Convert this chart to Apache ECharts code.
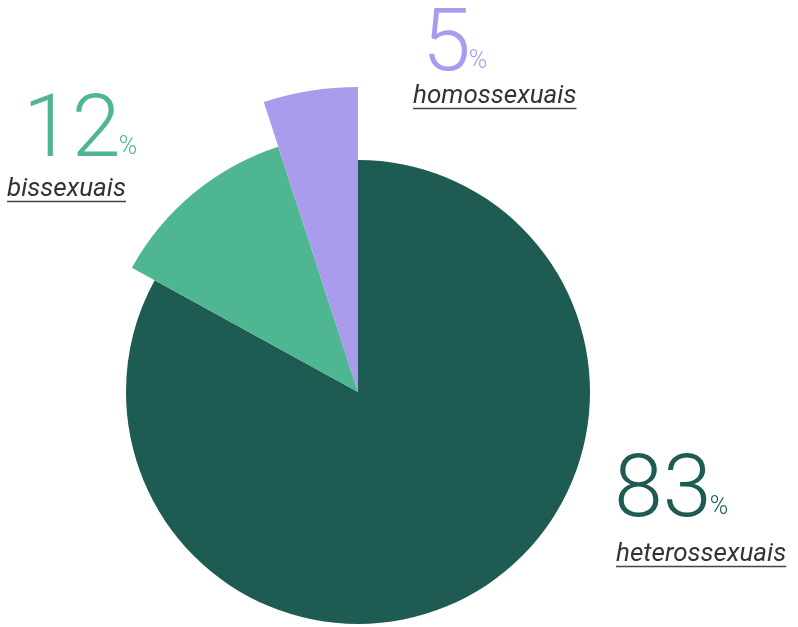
<!DOCTYPE html>
<html>
<head>
<meta charset="utf-8">
<script src="https://cdn.jsdelivr.net/npm/echarts@6/dist/echarts.min.js"></script>
<style>
  html, body { margin: 0; padding: 0; background: #fff; }
  #chart { width: 798px; height: 627px; }
</style>
</head>
<body>
<div id="chart"></div>
<script>
// dados
var names = ['heterossexuais', 'bissexuais', 'homossexuais'];
var values = [83, 12, 5];
var colors = ['#1e5c53', '#4eb690', '#ab9bed'];

// raio de cada fatia
var radii = [232, 258, 305];
// legendas: [x do número, topo do número, x do nome, linha de base do nome]
var labelPos = [[614, 450, 616, 562], [23, 90, 7, 197], [422, 4, 413, 104]];

var chart = echarts.init(document.getElementById('chart'));

var ctx = document.createElement('canvas').getContext('2d');
function textWidth(txt, font) {
  ctx.font = font;
  return ctx.measureText(txt).width;
}

var FONT = 'Roboto, sans-serif';
var NUM_FONT = '300 88px ' + FONT;
var PCT_FONT = '300 25px ' + FONT;
var NAME_FONT = 'italic 400 26px ' + FONT;
var series = [];
var graphic = [];

for (var i = 0; i < names.length; i++) {
  var data = [];
  for (var j = 0; j < values.length; j++) {
    data.push({
      name: names[j],
      value: values[j],
      itemStyle: { color: j == i ? colors[j] : 'transparent' }
    });
  }
  series.push({
    type: 'pie',
    center: [358, 392],
    radius: [0, radii[i]],
    startAngle: 90,
    clockwise: true,
    silent: true,
    animation: false,
    label: { show: false },
    labelLine: { show: false },
    data: data
  });

  var p = labelPos[i];
  var numTxt = String(values[i]);
  var numW = textWidth(numTxt, NUM_FONT);
  var nameW = textWidth(names[i], NAME_FONT);

  graphic.push({
    type: 'text', left: p[0], top: p[1],
    style: { text: numTxt, fill: colors[i], font: NUM_FONT }
  });
  graphic.push({
    type: 'text', left: p[0] + numW - 2, top: p[1] + 45,
    style: { text: '%', fill: colors[i], font: PCT_FONT }
  });
  graphic.push({
    type: 'text', left: p[2], top: p[3] - 21,
    style: { text: names[i], fill: '#333', font: NAME_FONT }
  });
  graphic.push({
    type: 'line',
    shape: { x1: p[2], y1: p[3] + 4.5, x2: p[2] + nameW, y2: p[3] + 4.5 },
    style: { stroke: '#444', lineWidth: 1.5 }
  });
}

chart.setOption({
  backgroundColor: '#fff',
  animation: false,
  series: series,
  graphic: graphic
});
</script>
</body>
</html>
